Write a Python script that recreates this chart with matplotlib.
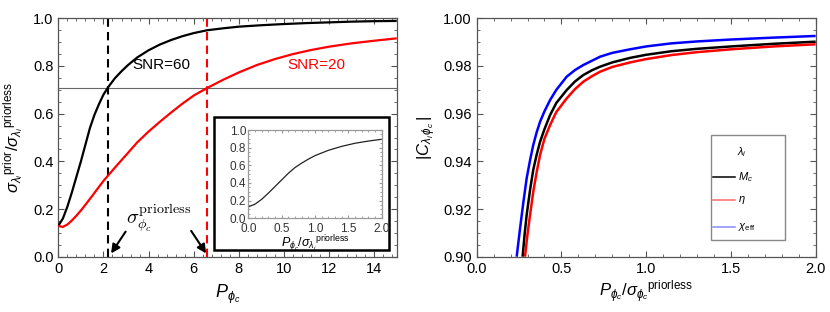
import matplotlib
matplotlib.use("Agg")
import matplotlib.pyplot as plt
from matplotlib.ticker import MultipleLocator, FormatStrFormatter
from matplotlib.patches import Rectangle

plt.rcParams['font.family'] = ['Liberation Sans', 'DejaVu Sans']
plt.rcParams['mathtext.fontset'] = 'custom'
plt.rcParams['mathtext.rm'] = 'Liberation Sans'
plt.rcParams['mathtext.it'] = 'Liberation Sans:italic'
plt.rcParams['mathtext.bf'] = 'Liberation Sans:bold'

# ---------------- data: left panel ----------------
snr60_x = [0, 0.2, 0.4, 0.6, 0.8, 1.0, 1.2, 1.4, 1.6, 1.8, 2.0, 2.2, 2.5, 2.8, 3.1,
           3.5, 4.0, 4.5, 5.0, 5.5, 6.0, 6.6, 7.3, 8, 9, 10, 11, 12, 13, 14, 15]
snr60_y = [0.13, 0.16, 0.21, 0.27, 0.335, 0.40, 0.47, 0.54, 0.595, 0.64, 0.68, 0.71,
           0.748, 0.778, 0.805, 0.836, 0.866, 0.89, 0.909, 0.925, 0.938, 0.95, 0.958,
           0.965, 0.971, 0.976, 0.98, 0.983, 0.986, 0.988, 0.989]
snr20_x = [0, 0.2, 0.4, 0.6, 0.8, 1.0, 1.2, 1.5, 1.8, 2.0, 2.2, 2.5, 2.8, 3.1, 3.5,
           4.0, 4.5, 5.0, 5.5, 6.0, 6.6, 7.3, 8.0, 8.8, 9.6, 10.4, 11.2, 12, 13, 14, 15]
snr20_y = [0.129, 0.125, 0.135, 0.152, 0.172, 0.194, 0.218, 0.255, 0.293, 0.318, 0.34,
           0.373, 0.405, 0.437, 0.48, 0.525, 0.566, 0.605, 0.642, 0.676, 0.708, 0.742,
           0.773, 0.804, 0.829, 0.85, 0.867, 0.881, 0.895, 0.906, 0.916]
threshold = 0.707
sigma_priorless = [2.2, 6.6]
snr_labels = ["SNR=60", "SNR=20"]

inset_x = [0, 0.1, 0.2, 0.3, 0.4, 0.5, 0.6, 0.7, 0.8, 0.9, 1.0, 1.2, 1.4, 1.6, 1.8, 2.0]
inset_y = [0.13, 0.16, 0.215, 0.285, 0.36, 0.435, 0.51, 0.575, 0.625, 0.67, 0.71,
           0.77, 0.815, 0.85, 0.875, 0.895]

# ---------------- data: right panel ----------------
mc_x = [0.271, 0.283, 0.295, 0.315, 0.334, 0.354, 0.374, 0.40, 0.433, 0.47, 0.531,
        0.58, 0.629, 0.68, 0.728, 0.8, 0.905, 1.0, 1.15, 1.3, 1.5, 1.75, 2.0]
mc_y = [0.900, 0.9095, 0.9175, 0.928, 0.9365, 0.9428, 0.9482, 0.9535, 0.9594, 0.9645,
        0.9699, 0.9735, 0.9762, 0.9782, 0.9797, 0.9815, 0.9834, 0.9847, 0.9862, 0.9872,
        0.9882, 0.9893, 0.9902]
eta_x = [0.285, 0.30, 0.315, 0.334, 0.354, 0.374, 0.40, 0.433, 0.47, 0.531, 0.58,
         0.629, 0.68, 0.728, 0.8, 0.905, 1.0, 1.15, 1.3, 1.5, 1.75, 2.0]
eta_y = [0.900, 0.9095, 0.9175, 0.9273, 0.9355, 0.9427, 0.9495, 0.9552, 0.9607, 0.9664,
         0.9703, 0.9734, 0.9757, 0.9776, 0.9796, 0.9815, 0.9829, 0.9846, 0.9858, 0.9870,
         0.9882, 0.9891]
chi_x = [0.236, 0.256, 0.276, 0.295, 0.315, 0.334, 0.354, 0.374, 0.40, 0.433, 0.47,
         0.531, 0.58, 0.629, 0.68, 0.728, 0.8, 0.905, 1.0, 1.15, 1.3, 1.5, 1.75, 2.0]
chi_y = [0.900, 0.9119, 0.9231, 0.9329, 0.9405, 0.9469, 0.9522, 0.9566, 0.961, 0.9657,
         0.9700, 0.9755, 0.9783, 0.9804, 0.9822, 0.9839, 0.9855, 0.9870, 0.9882, 0.9895,
         0.9903, 0.9911, 0.9919, 0.9926]
legend_title = r'$\lambda_i$'
legend_labels = [r'$M_c$', r'$\eta$', r'$\chi_{\mathrm{eff}}$']
legend_colors = ['black', '#ff6a6a', '#8a8aff']

FRAME = '#555555'


def style_axes(ax, size=10, length=4, mlength=2, color=FRAME):
    for s in ax.spines.values():
        s.set_color(color)
        s.set_linewidth(0.9)
    ax.tick_params(which='both', direction='in', top=True, right=True,
                   color=color, labelsize=size)
    ax.tick_params(which='major', length=length, width=0.8)
    ax.tick_params(which='minor', length=mlength, width=0.6)


fig = plt.figure(figsize=(8.3, 3.12), dpi=100)
kw = dict(solid_joinstyle='round', solid_capstyle='butt')

# ---------- left panel ----------
ax1 = fig.add_axes([0.0703, 0.1772, 0.4077, 0.7641])
ax1.plot(snr60_x, snr60_y, color='black', lw=1.6, zorder=3, **kw)
ax1.plot(snr20_x, snr20_y, color='red', lw=1.6, zorder=3, **kw)
ax1.axhline(threshold, color='#666666', lw=0.8, zorder=2)
ax1.axvline(sigma_priorless[0], color='black', lw=1.5, ls=(0, (4, 2.5)), zorder=2)
ax1.axvline(sigma_priorless[1], color='red', lw=1.5, ls=(0, (4, 2.5)), zorder=2)
ax1.set_xlim(0, 15)
ax1.set_ylim(0, 1)
ax1.xaxis.set_major_locator(MultipleLocator(2))
ax1.xaxis.set_minor_locator(MultipleLocator(0.4))
ax1.yaxis.set_major_locator(MultipleLocator(0.2))
ax1.yaxis.set_minor_locator(MultipleLocator(0.05))
ax1.xaxis.set_major_formatter(FormatStrFormatter('%d'))
ax1.yaxis.set_major_formatter(FormatStrFormatter('%.1f'))
style_axes(ax1, size=10.5)
ax1.set_xlabel(r'$P_{\phi_c}$', fontsize=13, labelpad=5)
ax1.set_ylabel(r'$\sigma_{\lambda_i}{}^{\mathrm{prior}}/\sigma_{\lambda_i}{}^{\mathrm{priorless}}$',
               fontsize=12, labelpad=5)
ax1.text(4.55, 0.805, snr_labels[0], color='black', fontsize=11, ha='center', va='center')
ax1.text(11.45, 0.805, snr_labels[1], color='red', fontsize=11, ha='center', va='center')
ax1.text(4.45, 0.16, r'$\sigma_{\phi_c}^{\mathrm{priorless}}$', fontsize=14.5,
         ha='center', va='center', math_fontfamily='cm')
ax1.annotate('', xy=(2.27, 0.004), xytext=(3.05, 0.115),
             arrowprops=dict(arrowstyle='-|>', color='black', lw=1.5, mutation_scale=13))
ax1.annotate('', xy=(6.62, 0.004), xytext=(5.82, 0.118),
             arrowprops=dict(arrowstyle='-|>', color='black', lw=1.5, mutation_scale=13))

# inset frame
box = Rectangle((0.2582, 0.1987), 0.2108, 0.4273, transform=fig.transFigure,
                facecolor='white', edgecolor='black', lw=1.8, zorder=5)
fig.patches.append(box)

ax_in = fig.add_axes([0.2992, 0.3003, 0.1607, 0.283], zorder=6)
ax_in.plot(inset_x, inset_y, color='#222222', lw=0.9, **kw)
ax_in.set_xlim(0, 2)
ax_in.set_ylim(0, 1)
ax_in.xaxis.set_major_locator(MultipleLocator(0.5))
ax_in.xaxis.set_minor_locator(MultipleLocator(0.1))
ax_in.yaxis.set_major_locator(MultipleLocator(0.2))
ax_in.yaxis.set_minor_locator(MultipleLocator(0.05))
ax_in.xaxis.set_major_formatter(FormatStrFormatter('%.1f'))
ax_in.yaxis.set_major_formatter(FormatStrFormatter('%.1f'))
style_axes(ax_in, size=8.5, length=2.5, mlength=1.3, color='#999999')
ax_in.tick_params(labelcolor='#333333')
ax_in.tick_params(axis='x', pad=3.2)
ax_in.tick_params(axis='y', pad=1.5)
ax_in.set_xlabel(r'$P_{\phi_c}/\sigma_{\lambda_i}{}^{\mathrm{priorless}}$', fontsize=9, labelpad=-1)

# ---------- right panel ----------
ax2 = fig.add_axes([0.5743, 0.1772, 0.4084, 0.7641])
ax2.plot(mc_x, mc_y, color='black', lw=1.8, **kw)
ax2.plot(eta_x, eta_y, color='red', lw=1.8, **kw)
ax2.plot(chi_x, chi_y, color='blue', lw=1.8, **kw)
ax2.set_xlim(0, 2)
ax2.set_ylim(0.9, 1.0)
ax2.xaxis.set_major_locator(MultipleLocator(0.5))
ax2.xaxis.set_minor_locator(MultipleLocator(0.1))
ax2.yaxis.set_major_locator(MultipleLocator(0.02))
ax2.yaxis.set_minor_locator(MultipleLocator(0.005))
ax2.xaxis.set_major_formatter(FormatStrFormatter('%.1f'))
ax2.yaxis.set_major_formatter(FormatStrFormatter('%.2f'))
style_axes(ax2, size=10.5)
ax2.set_xlabel(r'$P_{\phi_c}/\sigma_{\phi_c}{}^{\mathrm{priorless}}$', fontsize=12, labelpad=2)
ax2.set_ylabel(r'$|C_{\lambda_i\,\phi_c}\,|$', fontsize=12, labelpad=4)

# legend (drawn in axes-fraction coordinates)
T = ax2.transAxes
ax2.add_patch(Rectangle((0.690, 0.070), 0.2195, 0.4405, transform=T, facecolor='white',
                        edgecolor='#888888', lw=1.0, zorder=5))
ax2.text(0.7826, 0.440, legend_title, transform=T, fontsize=8, ha='center', va='center',
         zorder=6)
for yy, lab, col in zip([0.334, 0.238, 0.126], legend_labels, legend_colors):
    ax2.plot([0.697, 0.762], [yy, yy], transform=T, color=col, lw=1.1, zorder=6)
    ax2.text(0.770, yy, lab, transform=T, fontsize=8, ha='left', va='center', zorder=6)

fig.savefig('out.png', dpi=100)
